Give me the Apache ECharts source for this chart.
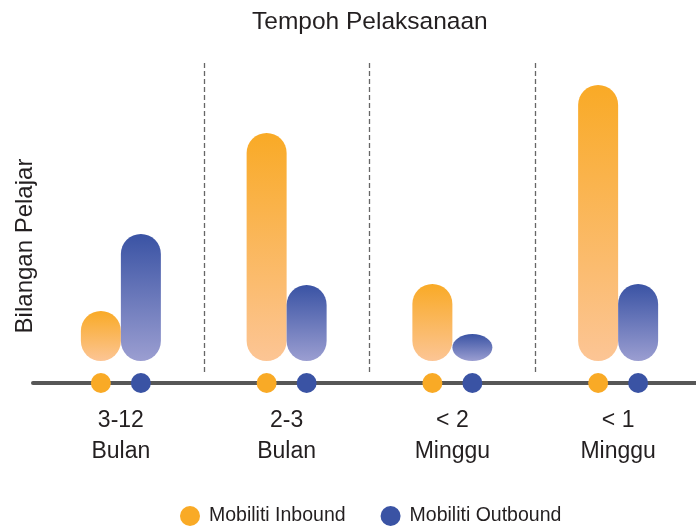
<!DOCTYPE html>
<html>
<head>
<meta charset="utf-8">
<script src="https://cdn.jsdelivr.net/npm/echarts@6/dist/echarts.min.js"></script>
<style>html,body{margin:0;padding:0;background:#fff;}#c{width:696px;height:526px;}</style>
</head>
<body>
<div id="c"></div>
<script>
const categories = ['3-12\nBulan', '2-3\nBulan', '< 2\nMinggu', '< 1\nMinggu'];
const inboundValues = [50, 228, 77, 276];
const outboundValues = [127, 76, 27, 77];
const seriesNames = ['Mobiliti Inbound', 'Mobiliti Outbound'];
const titleText = 'Tempoh Pelaksanaan';
const yAxisTitle = 'Bilangan Pelajar';

const Y_MIN = -22, Y_MAX = 300;
const BAR_W = 40, DOT_R = 10;
const FONT = '"Liberation Sans", Arial, sans-serif';
const TEXT = '#231F20';

const orangeGrad = () => new echarts.graphic.LinearGradient(0, 0, 0, 1, [
  {offset: 0, color: '#F9AA26'}, {offset: 1, color: '#FCC595'}]);
const blueGrad = () => new echarts.graphic.LinearGradient(0, 0, 0, 1, [
  {offset: 0, color: '#3A53A4'}, {offset: 1, color: '#9B9ED1'}]);

function makeRender(side, gradFn, dotColor) {
  return function (params, api) {
    const cat = api.value(0);
    const v = api.value(1);
    const base = api.coord([cat, 0]);
    const top = api.coord([cat, v]);
    const w = BAR_W;
    const x = base[0] + (side < 0 ? -w : 0);
    const y = top[1];
    const h = base[1] - top[1];
    const rx = w / 2, ry = Math.min(w / 2, h / 2);
    const d = 'M' + x + ',' + (y + ry) +
      ' A' + rx + ',' + ry + ' 0 0 1 ' + (x + w) + ',' + (y + ry) +
      ' L' + (x + w) + ',' + (y + h - ry) +
      ' A' + rx + ',' + ry + ' 0 0 1 ' + x + ',' + (y + h - ry) + ' Z';
    const axisPt = api.coord([cat, Y_MIN]);
    return {
      type: 'group',
      children: [
        {type: 'path', shape: {pathData: d, x: x, y: y, width: w, height: h, layout: 'cover'},
         style: {fill: gradFn()}},
        {type: 'circle', shape: {cx: x + w / 2, cy: axisPt[1], r: DOT_R}, style: {fill: dotColor}, z2: 10}
      ]
    };
  };
}

const chart = echarts.init(document.getElementById('c'), null, {renderer: 'canvas'});
chart.setOption({
  animation: false,
  backgroundColor: '#fff',
  title: {
    text: titleText, left: 252, top: 10, padding: 0,
    textStyle: {fontFamily: FONT, fontSize: 24.5, fontWeight: 'normal', color: TEXT}
  },
  legend: {
    data: seriesNames, icon: 'circle', itemWidth: 20, itemHeight: 20, itemGap: 35,
    left: 180, top: 506, padding: 0,
    textStyle: {fontFamily: FONT, fontSize: 19.5, color: TEXT, padding: [0, 0, 0, 4]}
  },
  graphic: [{
    type: 'text', x: 25, y: 246, rotation: Math.PI / 2,
    style: {text: yAxisTitle, fontFamily: FONT, fontSize: 24, fill: TEXT, align: 'center', verticalAlign: 'middle'}
  }],
  grid: [
    {left: 38, right: -5, top: 61, bottom: 143, outerBoundsMode: 'none', containLabel: false},
    {left: 33, right: 0, top: 61, bottom: 143, outerBoundsMode: 'none', containLabel: false},
    {left: 38, right: -5, top: 63, bottom: 153, outerBoundsMode: 'none', containLabel: false}
  ],
  xAxis: [
    {type: 'category', gridIndex: 0, data: categories,
     axisLine: {show: false}, axisTick: {show: false}, splitLine: {show: false},
     axisLabel: {fontFamily: FONT, fontSize: 23, color: TEXT, lineHeight: 31, margin: 22}},
    {type: 'value', gridIndex: 1, min: 0, max: 1,
     axisLine: {show: true, onZero: false, lineStyle: {color: '#575757', width: 4}},
     axisTick: {show: false}, axisLabel: {show: false}, splitLine: {show: false}},
    {type: 'category', gridIndex: 2, data: categories,
     axisLine: {show: false}, axisTick: {show: false}, axisLabel: {show: false},
     splitLine: {show: true, interval: function (i) { return i > 0 && i < categories.length; },
       lineStyle: {color: '#666', width: 1.3, type: [5, 3]}}}
  ],
  yAxis: [
    {type: 'value', gridIndex: 0, min: Y_MIN, max: Y_MAX, show: false},
    {type: 'value', gridIndex: 1, min: 0, max: 1, show: false},
    {type: 'value', gridIndex: 2, min: 0, max: 1, show: false}
  ],
  series: [
    {name: seriesNames[0], type: 'custom', xAxisIndex: 0, yAxisIndex: 0,
     itemStyle: {color: '#F9AA26'},
     renderItem: makeRender(-1, orangeGrad, '#F9AA26'),
     encode: {x: 0, y: 1},
     data: inboundValues.map((v, i) => [i, v])},
    {name: seriesNames[1], type: 'custom', xAxisIndex: 0, yAxisIndex: 0,
     itemStyle: {color: '#3A53A4'},
     renderItem: makeRender(1, blueGrad, '#3A53A4'),
     encode: {x: 0, y: 1},
     data: outboundValues.map((v, i) => [i, v])}
  ]
});
</script>
</body>
</html>
